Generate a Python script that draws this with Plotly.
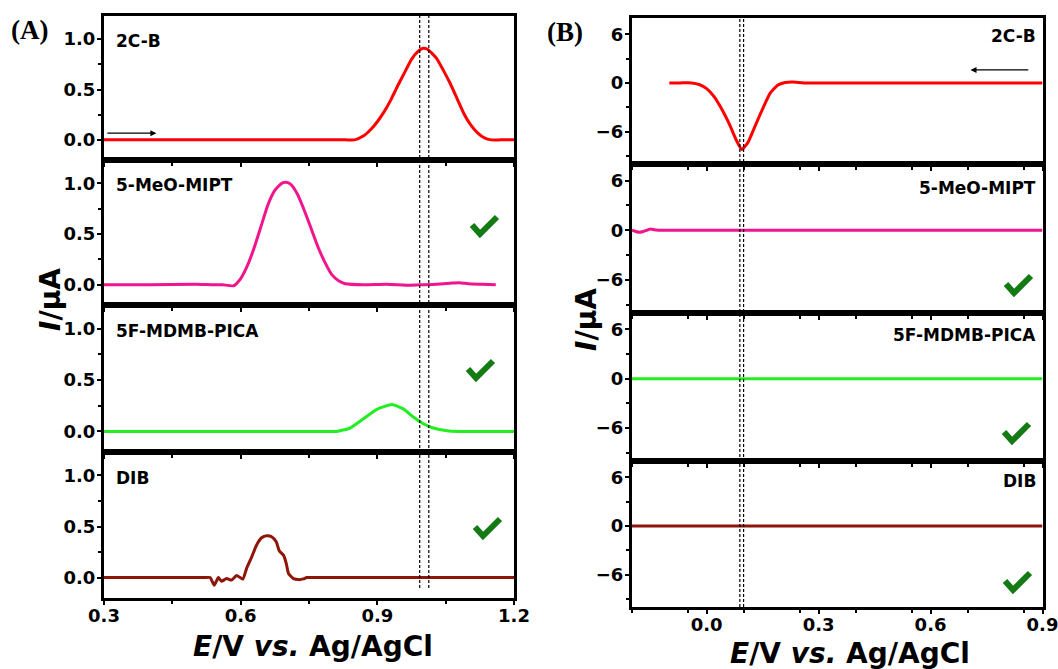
import plotly.graph_objects as go

# ---------------- data ----------------
# Panel A (oxidation scans)
a_2cb_x = [0.30, 0.50, 0.70, 0.80, 0.83, 0.85, 0.87, 0.885, 0.90, 0.915, 0.93, 0.945, 0.96,
           0.975, 0.99, 1.00, 1.01, 1.03, 1.045, 1.06, 1.075, 1.09, 1.105, 1.12, 1.135, 1.15,
           1.17, 1.20]
a_2cb_y = [0, 0, 0, 0, 0, 0, 0.04, 0.10, 0.18, 0.28, 0.40, 0.54, 0.67,
           0.80, 0.88, 0.91, 0.90, 0.81, 0.69, 0.56, 0.41, 0.26, 0.15, 0.07, 0.02, 0,
           0, 0]

a_meo_x = [0.30, 0.40, 0.50, 0.54, 0.56, 0.585, 0.60, 0.615, 0.63, 0.645, 0.66, 0.675, 0.69,
           0.70, 0.71, 0.725, 0.74, 0.755, 0.77, 0.785, 0.80, 0.815, 0.83, 0.87, 0.92, 0.97,
           1.00, 1.03, 1.06, 1.08, 1.10, 1.13, 1.16]
a_meo_y = [0, 0, 0.005, 0, 0, -0.01, 0.06, 0.19, 0.37, 0.58, 0.79, 0.93, 1.00,
           1.01, 0.99, 0.89, 0.73, 0.55, 0.37, 0.22, 0.10, 0.04, 0.01, 0, 0.005, -0.005,
           0, 0.005, 0.015, 0.02, 0.01, 0.005, 0]

a_5f_x = [0.30, 0.45, 0.60, 0.70, 0.78, 0.81, 0.84, 0.87, 0.90, 0.932, 0.957, 0.979, 1.001,
          1.023, 1.053, 1.08, 1.10, 1.15, 1.20]
a_5f_y = [0, 0, 0, 0, 0, 0, 0.033, 0.125, 0.217, 0.262, 0.22, 0.14, 0.075,
          0.033, 0.007, 0, 0, 0, 0]

a_dib_x = [0.30, 0.40, 0.48, 0.52, 0.533, 0.542, 0.551, 0.558, 0.569, 0.580, 0.591, 0.599,
           0.605, 0.613, 0.624, 0.635, 0.646, 0.657, 0.668, 0.678, 0.685, 0.694, 0.700,
           0.705, 0.716, 0.727, 0.738, 0.745, 0.76, 0.80, 0.90, 1.00, 1.10, 1.20]
a_dib_y = [0, 0, 0, 0, 0, -0.075, 0, -0.035, -0.01, -0.025, 0.02, 0,
           -0.015, 0.09, 0.20, 0.32, 0.39, 0.41, 0.40, 0.35, 0.26, 0.22, 0.14,
           0.04, -0.01, -0.02, -0.013, 0, 0, 0, 0, 0, 0, 0]

# Panel B (reduction scans)
b_2cb_x = [-0.10, -0.07, -0.04, -0.02, 0.0, 0.02, 0.04, 0.06, 0.08, 0.094, 0.11, 0.13, 0.15,
           0.17, 0.19, 0.21, 0.23, 0.26, 0.30, 0.40, 0.60, 0.90]
b_2cb_y = [0, 0, 0, -0.2, -0.7, -1.7, -3.2, -5.0, -7.1, -8.2, -7.4, -5.3, -3.2,
           -1.3, -0.3, 0.05, 0.1, 0, 0, 0, 0, 0]

b_meo_x = [-0.20, -0.19, -0.18, -0.17, -0.16, -0.15, -0.14, -0.13, -0.10, 0.0, 0.3, 0.6, 0.90]
b_meo_y = [0, -0.15, -0.25, -0.15, 0, 0.15, 0.05, 0, 0, 0, 0, 0, 0]

b_5f_x = [-0.20, 0.90]
b_5f_y = [0, 0]

b_dib_x = [-0.20, 0.90]
b_dib_y = [0, 0]

names = ["2C-B", "5-MeO-MIPT", "5F-MDMB-PICA", "DIB"]
colors = ["#FF0000", "#F0158C", "#22EE22", "#8E1508"]

a_xticks = [0.3, 0.6, 0.9, 1.2]
a_yticks = [0.0, 0.5, 1.0]
b_xticks = [0.0, 0.3, 0.6, 0.9]
b_yticks = [-6, 0, 6]

a_dashed = [0.993, 1.013]
b_dashed = [0.089, 0.099]

# ---------------- layout geometry ----------------
W, H = 1058, 669
def py(p):
    return 1 - p / H

def sfx(i):
    return "" if i == 1 else str(i)

a_xdom = [104 / W, 514 / W]
b_xdom = [632 / W, 1042.5 / W]
a_rows = [(16, 160), (160, 305), (305, 452), (452, 598)]
b_rows = [(18, 164), (164, 313), (313, 461), (461, 607)]

TICKFONT = dict(family="DejaVu Sans", size=18, color="black", weight="bold")
LABELFONT = dict(family="DejaVu Sans", size=17, color="black", weight="bold")

fig = go.Figure()

a_data = [(a_2cb_x, a_2cb_y), (a_meo_x, a_meo_y), (a_5f_x, a_5f_y), (a_dib_x, a_dib_y)]
b_data = [(b_2cb_x, b_2cb_y), (b_meo_x, b_meo_y), (b_5f_x, b_5f_y), (b_dib_x, b_dib_y)]

layout = dict(width=W, height=H, margin=dict(l=0, r=0, t=0, b=0, autoexpand=False),
              paper_bgcolor="white", plot_bgcolor="white", showlegend=False)

annotations = []
shapes = []

def add_panel(data, rows, xdom, xr, yr, xticks, yticks, xminor, yminor, offset, yfmt, label_left):
    for r in range(4):
        i = offset + r + 1
        s = sfx(i)
        xs, ys = data[r]
        fig.add_trace(go.Scatter(x=xs, y=ys, mode="lines", xaxis=f"x{s}", yaxis=f"y{s}",
                                 line=dict(color=colors[r], width=3, shape="spline", smoothing=0.5),
                                 hoverinfo="skip"))
        top, bot = rows[r]
        layout[f"xaxis{s}"] = dict(domain=xdom, range=xr, anchor=f"y{s}", showgrid=False,
                                   zeroline=False, showline=True, linecolor="black", linewidth=3,
                                   mirror=True, ticks="outside", ticklen=4, tickwidth=2,
                                   tickcolor="black", tickvals=xticks, tickformat=".1f",
                                   showticklabels=(r == 3), tickfont=TICKFONT,
                                   ticklabelstandoff=-5, automargin=False,
                                   ticklabeloverflow="allow",
                                   minor=dict(ticks="outside", ticklen=3, tickwidth=2,
                                              tickcolor="black", dtick=xminor, tick0=xr[0]),
                                   fixedrange=True)
        layout[f"yaxis{s}"] = dict(domain=[py(bot), py(top)], range=yr, anchor=f"x{s}",
                                   showgrid=False, zeroline=False, showline=True,
                                   linecolor="black", linewidth=3, mirror=True,
                                   ticks="outside", ticklen=4, tickwidth=2, tickcolor="black",
                                   tickvals=yticks, tickformat=yfmt, tickfont=TICKFONT,
                                   ticklabelstandoff=-2, automargin=False,
                                   ticklabeloverflow="allow",
                                   minor=dict(ticks="outside", ticklen=3, tickwidth=2,
                                              tickcolor="black", dtick=yminor, tick0=0),
                                   fixedrange=True)
        if label_left:
            annotations.append(dict(text=names[r], xref=f"x{s} domain", yref=f"y{s} domain",
                                    x=0.025, y=0.825, xanchor="left", yanchor="middle",
                                    showarrow=False, font=LABELFONT))
        else:
            annotations.append(dict(text=names[r], xref=f"x{s} domain", yref=f"y{s} domain",
                                    x=0.988, y=[0.88, 0.842, 0.85, 0.86][r], xanchor="right",
                                    yanchor="middle", showarrow=False, font=LABELFONT))

add_panel(a_data, a_rows, a_xdom, [0.3, 1.2], [-0.2, 1.23], a_xticks, a_yticks, 0.15, 0.25, 0, ".1f", True)
add_panel(b_data, b_rows, b_xdom, [-0.2, 0.9], [-10, 8], b_xticks, b_yticks, 0.15, 3, 4, "d", False)

# dashed vertical reference lines
for xv in a_dashed:
    shapes.append(dict(type="line", xref="x4", yref="paper", x0=xv, x1=xv,
                       y0=py(588), y1=py(16), line=dict(color="black", width=1.2, dash="3px,2px")))
for xv in b_dashed:
    shapes.append(dict(type="line", xref="x8", yref="paper", x0=xv, x1=xv,
                       y0=py(607), y1=py(18), line=dict(color="black", width=1.2, dash="3px,2px")))

# scan direction arrows
annotations.append(dict(x=0.415, y=0.066, ax=0.304, ay=0.066, xref="x", yref="y",
                        axref="x", ayref="y", showarrow=True, arrowhead=2, arrowsize=1,
                        arrowwidth=1.2, arrowcolor="black", text=""))
annotations.append(dict(x=0.707, y=1.6, ax=0.866, ay=1.6, xref="x5", yref="y5",
                        axref="x5", ayref="y5", showarrow=True, arrowhead=2, arrowsize=1,
                        arrowwidth=1.2, arrowcolor="black", text=""))

# check marks (drawn as thick polylines in paper coordinates)
for (cx, cy) in [(484, 226), (480, 370), (487, 528), (1018, 285), (1016, 433), (1017, 582)]:
    pts = [(cx - 12, cy - 1), (cx - 4, cy + 8), (cx + 13, cy - 9)]
    path = "M {} {} L {} {} L {} {}".format(*[v for p in pts for v in (p[0] / W, py(p[1]))])
    shapes.append(dict(type="path", xref="paper", yref="paper", path=path,
                       line=dict(color="#147A14", width=6)))

# axis titles
TITLEFONT = dict(family="DejaVu Sans", size=28, color="black", weight="bold")
xtitle = "<i>E</i>/V <i>vs.</i> Ag/AgCl"
ytitle = "<i>I</i>/\u03bcA"
annotations.append(dict(text=xtitle, xref="paper", yref="paper", x=313 / W, y=py(646),
                        xanchor="center", yanchor="middle", showarrow=False, font=TITLEFONT))
annotations.append(dict(text=xtitle, xref="paper", yref="paper", x=850 / W, y=py(653),
                        xanchor="center", yanchor="middle", showarrow=False, font=TITLEFONT))
annotations.append(dict(text=ytitle, xref="paper", yref="paper", x=50 / W, y=py(300),
                        xanchor="center", yanchor="middle", showarrow=False, font=TITLEFONT,
                        textangle=-90))
annotations.append(dict(text=ytitle, xref="paper", yref="paper", x=586 / W, y=py(320),
                        xanchor="center", yanchor="middle", showarrow=False, font=TITLEFONT,
                        textangle=-90))

# panel labels
PFONT = dict(family="Liberation Serif", size=27, color="black", weight="bold")
annotations.append(dict(text="(A)", xref="paper", yref="paper", x=29 / W, y=py(30),
                        xanchor="center", yanchor="middle", showarrow=False, font=PFONT))
annotations.append(dict(text="(B)", xref="paper", yref="paper", x=565 / W, y=py(32),
                        xanchor="center", yanchor="middle", showarrow=False, font=PFONT))

layout["annotations"] = annotations
layout["shapes"] = shapes
fig.update_layout(**layout)

fig.write_html("out.html")
